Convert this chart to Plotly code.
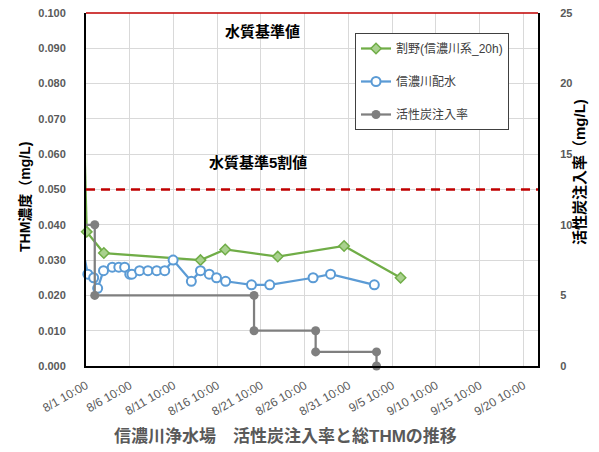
import plotly.graph_objects as go

# ---- data ----
green_name = "割野(信濃川系_20h)"
green_x = ["2023-08-01 12:00", "2023-08-03 11:00", "2023-08-14 12:00", "2023-08-17 08:00",
           "2023-08-23 08:00", "2023-08-30 22:00", "2023-09-06 09:00"]
green_y = [0.038, 0.032, 0.030, 0.033, 0.031, 0.034, 0.025]
green_prev_x = "2023-07-31 10:00"
green_prev_y = 0.14

blue_name = "信濃川配水"
blue_x = ["2023-08-01 15:00", "2023-08-02 07:00", "2023-08-02 18:00", "2023-08-03 10:00",
          "2023-08-04 10:00", "2023-08-05 04:00", "2023-08-05 20:00", "2023-08-06 10:00",
          "2023-08-06 16:00", "2023-08-07 13:00", "2023-08-08 12:00", "2023-08-09 12:00",
          "2023-08-10 10:00", "2023-08-11 09:00", "2023-08-13 11:00", "2023-08-14 12:00",
          "2023-08-15 12:00", "2023-08-16 08:00", "2023-08-17 09:00", "2023-08-20 08:00",
          "2023-08-22 10:00", "2023-08-27 09:00", "2023-08-29 09:00", "2023-09-03 09:00"]
blue_y = [0.026, 0.025, 0.022, 0.027, 0.028, 0.028, 0.028, 0.026, 0.026, 0.027, 0.027, 0.027,
          0.027, 0.030, 0.024, 0.027, 0.026, 0.025, 0.024, 0.023, 0.023, 0.025, 0.026, 0.023]
blue_prev_x = "2023-07-31 10:00"
blue_prev_y = 0.041

gray_name = "活性炭注入率"
gray_x = ["2023-08-02 10:00", "2023-08-02 10:00", "2023-08-20 15:00", "2023-08-20 15:00",
          "2023-08-27 16:00", "2023-08-27 16:00", "2023-09-03 15:00", "2023-09-03 15:00"]
gray_y = [10, 5, 5, 2.5, 2.5, 1, 1, 0]
gray_prev_x = "2023-07-25 10:00"
gray_prev_y = 10

standard = 0.100
half_standard = 0.050
y_max = 0.100
y2_max = 25
standard_label = "水質基準値"
half_label = "水質基準5割値"
title_text = "信濃川浄水場　活性炭注入率と総THMの推移"
y_title = "THM濃度（mg/L)"
y2_title = "活性炭注入率（mg/L)"
x_start = "2023-08-01 10:00"
x_end = "2023-09-22 02:00"

GREEN = "#70AD47"
BLUE = "#5B9BD5"
GRAY = "#7F7F7F"
RED = "#C00000"
FONT = "Liberation Sans, Noto Sans CJK JP, sans-serif"

fig = go.Figure()

# lead-in segments from points before the visible range
fig.add_trace(go.Scatter(x=[green_prev_x, green_x[0]], y=[green_prev_y, green_y[0]], mode="lines",
                         line=dict(color=GREEN, width=2.25), showlegend=False, hoverinfo="skip"))
fig.add_trace(go.Scatter(x=[blue_prev_x, blue_x[0]], y=[blue_prev_y, blue_y[0]], mode="lines",
                         line=dict(color=BLUE, width=2.25), showlegend=False, hoverinfo="skip"))
fig.add_trace(go.Scatter(x=[gray_prev_x, gray_x[0]], y=[gray_prev_y, gray_y[0]], mode="lines",
                         line=dict(color=GRAY, width=2.25), showlegend=False, hoverinfo="skip",
                         yaxis="y2"))

fig.add_trace(go.Scatter(x=green_x, y=green_y, mode="lines+markers", name=green_name,
                         legendgroup="g1",
                         line=dict(color=GREEN, width=2.25),
                         marker=dict(symbol="diamond", size=8, color="#A9D18E",
                                     line=dict(color=GREEN, width=1.5)),
                         cliponaxis=False))
fig.add_trace(go.Scatter(x=blue_x, y=blue_y, mode="lines+markers", name=blue_name,
                         legendgroup="g2",
                         line=dict(color=BLUE, width=2.25),
                         marker=dict(symbol="circle", size=9, color="white",
                                     line=dict(color=BLUE, width=2)),
                         cliponaxis=False))
fig.add_trace(go.Scatter(x=gray_x, y=gray_y, mode="lines+markers", name=gray_name,
                         legendgroup="g3", yaxis="y2",
                         line=dict(color=GRAY, width=2.25),
                         marker=dict(symbol="circle", size=9, color=GRAY),
                         cliponaxis=False))

# standard lines
fig.add_shape(type="line", xref="paper", x0=0, x1=1, yref="paper",
              y0=standard / y_max, y1=standard / y_max,
              line=dict(color=RED, width=1.5), layer="above")
fig.add_shape(type="line", xref="paper", x0=0, x1=1, yref="y", y0=half_standard, y1=half_standard,
              line=dict(color=RED, width=2.5, dash="9px,6px"))

W, H = 599, 452
OFF = 8  # page body offset
# plot area in page pixels: x 86..538, y 13..366
L = 86 - OFF
T = 13 - OFF
R = W - (538 - OFF)
B = H - (366 - OFF)
pw, ph = W - L - R, H - T - B


def px_to_paper(x, y):
    return (x - OFF - L) / pw, (H - B - (y - OFF)) / ph


def add_text(px, py, text, size, color, angle=0):
    ax, ay = px_to_paper(px, py)
    fig.add_annotation(x=ax, y=ay, xref="paper", yref="paper", text=text, showarrow=False,
                       xanchor="center", yanchor="middle", textangle=angle,
                       font=dict(family=FONT, size=size, color=color, weight="bold"))


add_text(262, 32, standard_label, 15, "#000000")
add_text(258, 163, half_label, 15, "#000000")
add_text(285, 437, title_text, 17, "#595959")
add_text(25, 197, y_title, 14, "#000000", -90)
add_text(580, 172, y2_title, 15, "#000000", -90)

lx, ly = px_to_paper(355, 33)
fig.update_layout(
    width=W, height=H,
    margin=dict(l=L, r=R, t=T, b=B, autoexpand=False),
    paper_bgcolor="white", plot_bgcolor="white",
    font=dict(family=FONT, color="#595959"),
    showlegend=True,
    legend=dict(x=lx, y=ly, xanchor="left", yanchor="top",
                bgcolor="white", bordercolor="#404040", borderwidth=1,
                font=dict(family=FONT, size=12, color="#404040"),
                traceorder="grouped", tracegroupgap=14, itemwidth=30,
                entrywidth=162, entrywidthmode="pixels"),
    xaxis=dict(type="date", range=[x_start, x_end], tick0=x_start, dtick=5 * 86400000,
               tickformat="%-m/%-d %H:%M", tickangle=-30, automargin=False,
               tickfont=dict(family=FONT, size=12, color="#595959"),
               showgrid=True, gridcolor="#D9D9D9", gridwidth=1,
               showline=True, linecolor="#000000", linewidth=2,
               zeroline=False, ticks="", ticklabelstandoff=6, ticklabeloverflow="allow"),
    yaxis=dict(range=[0, y_max], dtick=0.01, tickformat=".3f", automargin=False,
               tickfont=dict(family=FONT, size=11, color="#595959", weight="bold"),
               showgrid=True, gridcolor="#D9D9D9", gridwidth=1,
               showline=True, linecolor="#000000", linewidth=2,
               zeroline=False, ticks="", ticklabelstandoff=16, ticklabeloverflow="allow"),
    yaxis2=dict(range=[0, y2_max], dtick=5, overlaying="y", side="right", automargin=False,
                tickfont=dict(family=FONT, size=11, color="#595959", weight="bold"),
                showgrid=False, showline=True, linecolor="#000000", linewidth=2,
                zeroline=False, ticks="", ticklabelstandoff=18, ticklabeloverflow="allow"),
)

fig.write_html("out.html")
